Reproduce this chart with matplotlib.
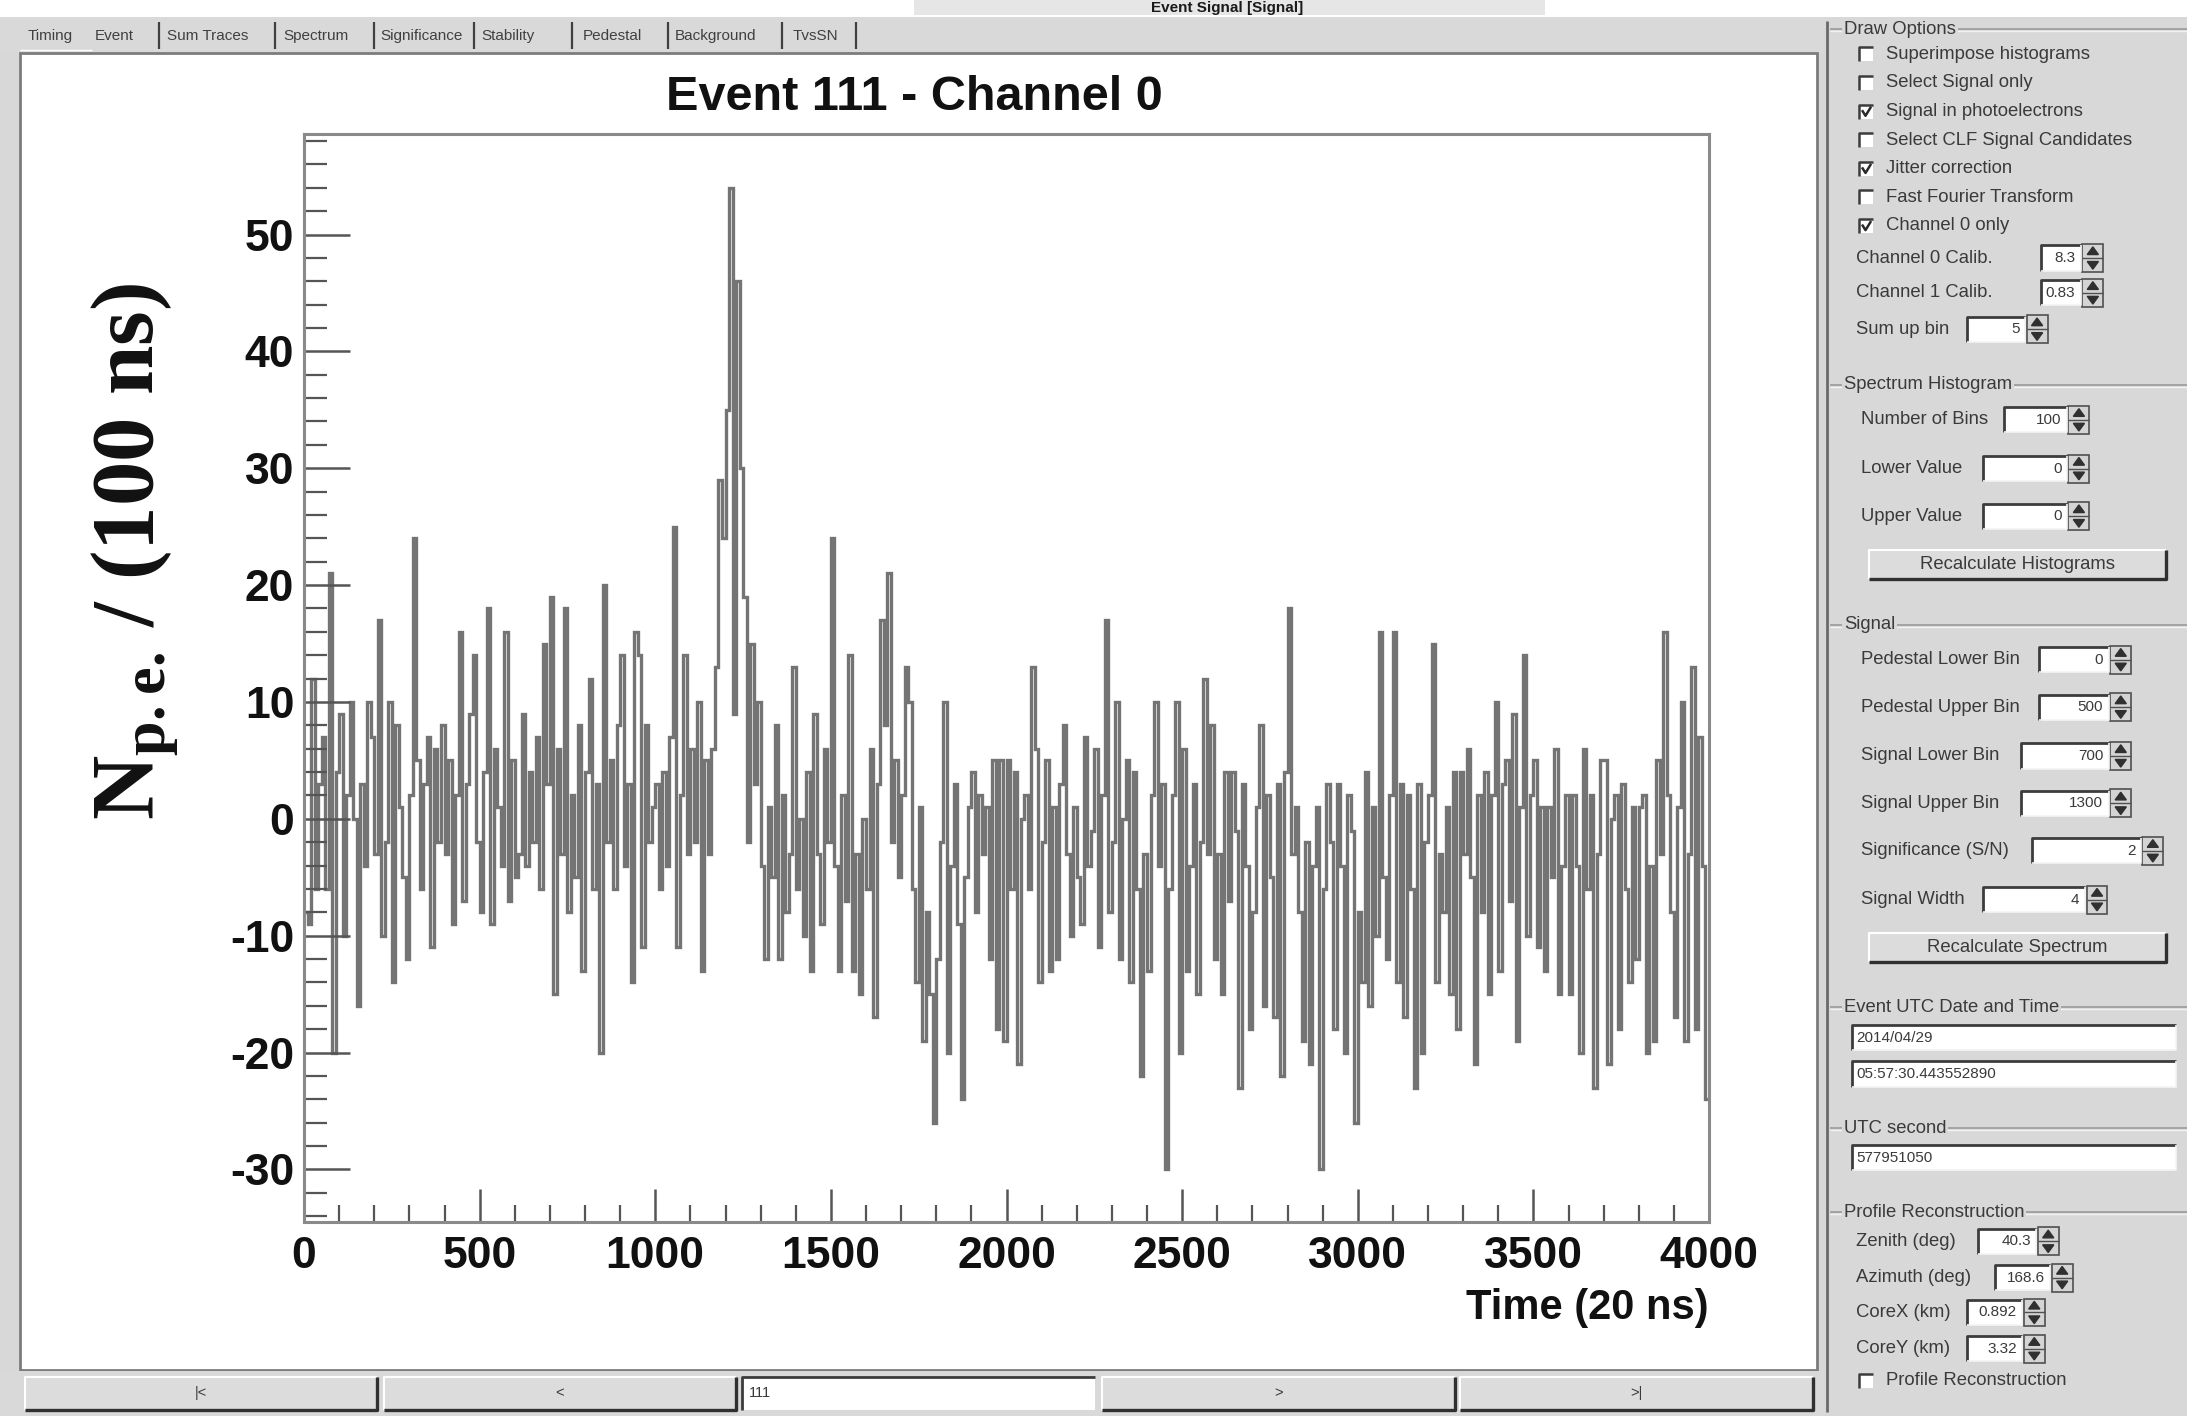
import numpy as np
import matplotlib
matplotlib.use("Agg")
import matplotlib.pyplot as plt
from matplotlib.patches import Rectangle, Polygon
from matplotlib.ticker import MultipleLocator

plt.rcParams['mathtext.fontset'] = 'custom'
plt.rcParams['mathtext.rm'] = 'Liberation Serif:bold'
plt.rcParams['mathtext.bf'] = 'Liberation Serif:bold'
plt.rcParams['mathtext.it'] = 'Liberation Serif:bold'

# ---------------- data ----------------
bin_width = 10          # time units (20 ns) per drawn bin
time_max = 4000
signal = [
    -8, -9, 12, -6, 3, 7, -6, 21, -20, 4,
    9, -10, 2, 10, 0, -16, 3, -4, 10, 7,
    -3, 17, -10, -2, 10, -14, 8, 1, -5, -12,
    2, 24, 5, -6, 3, 7, -11, 6, -2, 8,
    -3, 5, -9, 2, 16, -7, 3, 9, 14, -2,
    -8, 4, 18, -9, 6, 1, -4, 16, -7, 5,
    -5, -3, 9, -4, 4, -2, 7, -6, 15, 3,
    19, -15, 6, -3, 18, -8, 2, -5, 8, -13,
    4, 12, -6, 3, -20, 20, -2, 5, -6, 8,
    14, -4, 3, -14, 16, 14, -11, 8, -2, 1,
    3, -6, 4, -4, 7, 25, -11, 2, 14, -3,
    6, -2, 10, -13, 5, -3, 6, 13, 29, 24,
    35, 54, 9, 46, 30, 19, -2, 15, 3, 10,
    -4, -12, 1, -5, 8, -12, 2, -8, -3, 13,
    -6, 0, -10, 4, -13, 9, -3, -9, 6, -2,
    24, -4, -13, 2, -7, 14, -13, -3, -15, 0,
    -6, 6, -17, 3, 17, 8, 21, -2, 5, -5,
    2, 13, 10, -6, -14, 1, -19, -8, -15, -26,
    -12, -2, 10, -20, -4, 3, -9, -24, -5, 1,
    4, -8, 2, -3, 1, -12, 5, -18, 5, -19,
    5, -6, 4, -21, 0, 2, -6, 13, 6, -14,
    -2, 5, -13, 1, -12, 3, 8, -3, -10, 1,
    -5, -9, 7, -4, -1, 6, -11, 2, 17, -8,
    -2, 10, -12, 0, 5, -14, 4, -6, -22, -3,
    -13, 2, 10, -4, 3, -30, -6, 2, 10, -20,
    6, -13, -4, 3, -15, -2, 12, -3, 8, -12,
    -3, -15, 4, -7, 4, -1, -23, 3, -4, -18,
    -8, 1, 8, -16, 2, -5, -17, 3, -22, 4,
    18, -3, 1, -8, -19, -2, -21, -4, 1, -30,
    -6, 3, -2, -18, 3, -4, -20, 2, -1, -26,
    -8, -14, 4, -16, 1, -10, 16, -5, -12, 2,
    16, -14, 3, -17, 2, -6, -23, 3, -20, -2,
    2, 15, -14, -3, -8, 1, -15, 4, -18, 4,
    -3, 6, -5, -21, 2, -8, 4, -15, 2, 10,
    -13, 3, 5, -7, 9, -19, 1, 14, -10, 2,
    5, -11, 1, -13, 1, -5, 6, -15, -4, 2,
    -15, 2, -4, -20, 6, -6, 2, -23, -3, 5,
    5, -21, 0, 2, -18, 3, -6, -14, 1, -12,
    1, 2, -20, -4, -19, 5, -3, 16, 2, -8,
    -17, 1, 10, -19, -3, 13, -18, 7, -4, -24,
]
x_ticks = [0, 500, 1000, 1500, 2000, 2500, 3000, 3500, 4000]
y_ticks = [-30, -20, -10, 0, 10, 20, 30, 40, 50]
y_range = (-34.5, 58.6)
title = "Event 111 - Channel 0"
x_title = "Time (20 ns)"
y_title = r"$\mathbf{N}_{\mathbf{p.e.}}\,$/ (100 ns)"
window_title = "Event Signal [Signal]"

tab_labels = ["Timing", "Event", "Sum Traces", "Spectrum", "Significance",
              "Stability", "Pedestal", "Background", "TvsSN"]
draw_options = ["Superimpose histograms", "Select Signal only",
                "Signal in photoelectrons", "Select CLF Signal Candidates",
                "Jitter correction", "Fast Fourier Transform", "Channel 0 only"]
draw_checked = [False, False, True, False, True, False, True]
calib_labels = ["Channel 0 Calib.", "Channel 1 Calib.", "Sum up bin"]
calib_values = ["8.3", "0.83", "5"]
spectrum_labels = ["Number of Bins", "Lower Value", "Upper Value"]
spectrum_values = ["100", "0", "0"]
signal_labels = ["Pedestal Lower Bin", "Pedestal Upper Bin", "Signal Lower Bin",
                 "Signal Upper Bin", "Significance (S/N)", "Signal Width"]
signal_values = ["0", "500", "700", "1300", "2", "4"]
utc_date = ["2014/04/29", "05:57:30.443552890"]
utc_second = "577951050"
profile_labels = ["Zenith (deg)", "Azimuth (deg)", "CoreX (km)", "CoreY (km)"]
profile_values = ["40.3", "168.6", "0.892", "3.32"]
nav_labels = ["|<", "<", "111", ">", ">|"]

# ---------------- figure ----------------
W, H = 2187, 1416
S = W / 1568.0
fig = plt.figure(figsize=(W / 100, H / 100), dpi=100, facecolor="#d8d8d8")

ov = fig.add_axes([0, 0, 1, 1], zorder=0)
ov.set_xlim(0, W)
ov.set_ylim(H, 0)
ov.axis("off")

GUI_FONT = "Liberation Sans"
GUI_FS = 13.3
TXT = "#3a3a3a"
PANEL = "#d8d8d8"


def R(x0, y0, x1, y1, **kw):
    p = Rectangle((x0 * S, y0 * S), (x1 - x0) * S, (y1 - y0) * S, **kw)
    ov.add_patch(p)
    return p


def T(x, y, s, **kw):
    kw.setdefault("fontsize", GUI_FS)
    kw.setdefault("color", TXT)
    kw.setdefault("family", GUI_FONT)
    kw.setdefault("va", "center")
    return ov.text(x * S, y * S, s, **kw)


def L(xs, ys, **kw):
    kw.setdefault("color", "#808080")
    kw.setdefault("lw", 1.2)
    kw.setdefault("solid_capstyle", "butt")
    ov.plot([x * S for x in xs], [y * S for y in ys], **kw)


def entry(x0, x1, y, val, align="right"):
    R(x0, y - 9, x1, y + 9, facecolor="white", edgecolor="none")
    L([x0, x0, x1], [y + 9, y - 9, y - 9], color="#3c3c3c", lw=2)
    L([x0, x1, x1], [y + 9, y + 9, y - 9], color="#f4f4f4", lw=1.2)
    if align == "right":
        T(x1 - 4, y, val, ha="right", fontsize=11)
    else:
        T(x0 + 3, y, val, ha="left", fontsize=11)


def spinner(x0, y):
    R(x0, y - 10, x0 + 15, y + 10, facecolor="#d4d4d4", edgecolor="#505050", lw=1.2)
    L([x0, x0 + 15], [y, y], color="#505050", lw=1)
    cx = x0 + 7.5
    ov.add_patch(Polygon([(cx * S, (y - 8) * S), ((cx - 4) * S, (y - 2.5) * S),
                          ((cx + 4) * S, (y - 2.5) * S)], color="#303030"))
    ov.add_patch(Polygon([(cx * S, (y + 8) * S), ((cx - 4) * S, (y + 2.5) * S),
                          ((cx + 4) * S, (y + 2.5) * S)], color="#303030"))


def button(x0, x1, y0, y1, label, fs=GUI_FS):
    R(x0, y0, x1, y1, facecolor="#dcdcdc", edgecolor="none")
    L([x0, x0, x1], [y1, y0, y0], color="#ffffff", lw=1.5)
    L([x0, x1, x1], [y1, y1, y0], color="#303030", lw=2.4)
    T((x0 + x1) / 2, (y0 + y1) / 2, label, ha="center", fontsize=fs)


def checkbox(y, label, checked):
    R(1333, y - 5, 1343, y + 5, facecolor="white", edgecolor="none")
    L([1333, 1333, 1343], [y + 5, y - 5, y - 5], color="#3c3c3c", lw=1.8)
    if checked:
        L([1335, 1337.5, 1341.5], [y - 1, y + 3, y - 3.5], color="#2a2a2a", lw=1.8)
    T(1352, y, label)


def group(y, label):
    L([1312, 1568], [y, y], color="#9a9a9a", lw=1.2)
    L([1312, 1568], [y + 1.2, y + 1.2], color="#f2f2f2", lw=1)
    T(1322, y, label, fontsize=GUI_FS,
      bbox=dict(facecolor=PANEL, edgecolor="none", pad=1.5))


# top strip with the window title
R(0, 0, 1568, 12, facecolor="white", edgecolor="none")
R(655, 0, 1108, 11, facecolor="#e6e6e6", edgecolor="none")
T(880, 6, window_title, ha="center", fontsize=11, fontweight="bold", color="#1a1a1a")

# tab bar
R(0, 12, 1308, 38, facecolor="#d9d9d9", edgecolor="none")
tab_x = [20, 68, 120, 203, 273, 345, 418, 484, 568]
tab_sep = [114, 197, 268, 340, 410, 479, 561, 614]
for xx, lab in zip(tab_x, tab_labels):
    T(xx, 26, lab, ha="left", fontsize=11, color="#404040")
for xs in tab_sep:
    L([xs, xs], [16, 35], color="#404040", lw=1.6)
L([14, 66], [36, 36], color="#ffffff", lw=1)

# canvas
R(14, 38, 1303, 982, facecolor="white", edgecolor="#7c7c7c", lw=2)

# bottom navigation bar
R(0, 983, 1308, 1015, facecolor="#d9d9d9", edgecolor="none")
nav_x = [(18, 270), (275, 528), (532, 785), (790, 1043), (1047, 1300)]
for (x0, x1), lab in zip(nav_x, nav_labels):
    if lab.isdigit():
        R(x0, 987, x1, 1011, facecolor="white", edgecolor="none")
        L([x0, x0, x1], [1011, 987, 987], color="#3c3c3c", lw=2)
        T(x0 + 5, 999, lab, ha="left", fontsize=10.5)
    else:
        button(x0, x1, 987, 1011, lab, fs=10.5)

# right panel
R(1309, 0, 1568, 1015, facecolor=PANEL, edgecolor="none")
R(1309, 0, 1568, 12, facecolor="white", edgecolor="none")
L([1310, 1310], [15, 1012], color="#6a6a6a", lw=2)

group(21, "Draw Options")
for i, (lab, chk) in enumerate(zip(draw_options, draw_checked)):
    checkbox(39 + i * 20.5, lab, chk)
calib_rows = [(185, 1331, 1463, 1492), (210, 1331, 1463, 1492), (236, 1331, 1410, 1452)]
for (y, lx, x0, x1), lab, val in zip(calib_rows, calib_labels, calib_values):
    T(lx, y, lab)
    entry(x0, x1, y, val)
    spinner(x1 + 1, y)

group(276, "Spectrum Histogram")
spec_rows = [(301, 1437, 1482), (336, 1422, 1482), (370, 1422, 1482)]
for (y, x0, x1), lab, val in zip(spec_rows, spectrum_labels, spectrum_values):
    T(1334, y, lab)
    entry(x0, x1, y, val)
    spinner(x1 + 1, y)
button(1340, 1553, 394, 415, "Recalculate Histograms")

group(448, "Signal")
sig_rows = [(473, 1462, 1512), (507, 1462, 1512), (542, 1449, 1512),
            (576, 1449, 1512), (610, 1457, 1535), (645, 1422, 1495)]
for (y, x0, x1), lab, val in zip(sig_rows, signal_labels, signal_values):
    T(1334, y, lab)
    entry(x0, x1, y, val)
    spinner(x1 + 1, y)
button(1340, 1553, 669, 690, "Recalculate Spectrum")

group(722, "Event UTC Date and Time")
entry(1328, 1560, 744, utc_date[0], align="left")
entry(1328, 1560, 770, utc_date[1], align="left")

group(809, "UTC second")
entry(1328, 1560, 830, utc_second, align="left")

group(869, "Profile Reconstruction")
prof_rows = [(890, 1418, 1460), (916, 1430, 1470), (941, 1410, 1450), (967, 1410, 1450)]
for (y, x0, x1), lab, val in zip(prof_rows, profile_labels, profile_values):
    T(1331, y, lab)
    entry(x0, x1, y, val)
    spinner(x1 + 1, y)
checkbox(990, "Profile Reconstruction", False)

# ---------------- main plot ----------------
ax_l, ax_r, ax_t, ax_b = 304, 1709, 134, 1222
ax = fig.add_axes([ax_l / W, 1 - ax_b / H, (ax_r - ax_l) / W, (ax_b - ax_t) / H], zorder=2)
ax.set_facecolor("white")
edges = np.arange(0, len(signal) + 1) * bin_width
ax.stairs(signal, edges, color="#747474", lw=2.4, baseline=None)
ax.set_xlim(0, time_max)
ax.set_ylim(*y_range)

tick_font = dict(fontsize=32, fontweight="bold", family="Liberation Sans", color="#111111")
ax.set_xticks(x_ticks, labels=[str(v) for v in x_ticks], **tick_font)
ax.set_yticks(y_ticks, labels=[str(v) for v in y_ticks], **tick_font)
ax.xaxis.set_minor_locator(MultipleLocator(100))
ax.yaxis.set_minor_locator(MultipleLocator(2))
ax.tick_params(axis="y", which="major", direction="in", length=33, width=1.8,
               color="#555555", pad=7, right=False)
ax.tick_params(axis="y", which="minor", direction="in", length=16.5, width=1.6,
               color="#555555", right=False)
ax.tick_params(axis="x", which="major", direction="in", length=24, width=1.8,
               color="#555555", pad=10, top=False)
ax.tick_params(axis="x", which="minor", direction="in", length=12, width=1.6,
               color="#555555", top=False)
for sp in ax.spines.values():
    sp.set_color("#8a8a8a")
    sp.set_linewidth(2.2)

ov.text(914, 98, title, ha="center", va="center", fontsize=35,
        fontweight="bold", family="Liberation Sans", color="#111111")
ov.text(1709, 1308, x_title, ha="right", va="center", fontsize=30,
        fontweight="bold", family="Liberation Sans", color="#111111")
ov.text(134, 551, y_title, ha="center", va="center", rotation=90,
        fontsize=64, fontweight="bold", family="Liberation Serif", color="#111111")

fig.savefig("out.png", dpi=100, facecolor=fig.get_facecolor())
